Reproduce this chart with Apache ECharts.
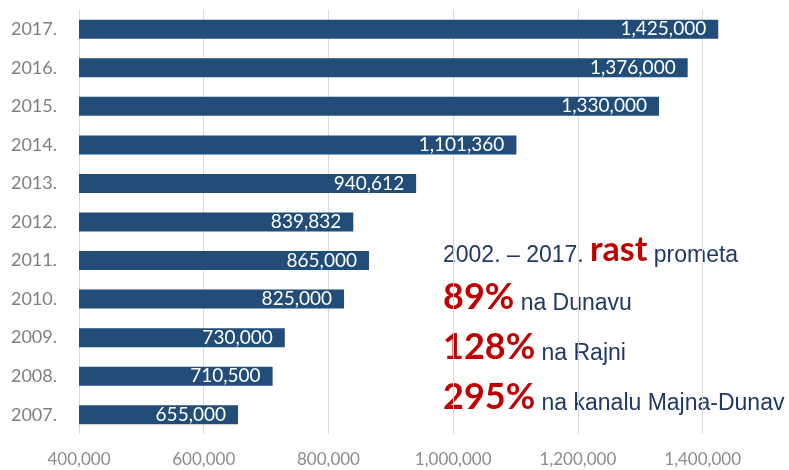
<!DOCTYPE html>
<html>
<head>
<meta charset="utf-8">
<script src="https://cdn.jsdelivr.net/npm/echarts@6/dist/echarts.min.js"></script>
<style>
  html, body { margin: 0; padding: 0; background: #fff; }
  #chart { width: 789px; height: 470px; }
</style>
</head>
<body>
<div id="chart"></div>
<script>
// godine i promet (odozdo prema gore)
let years = ['2007.', '2008.', '2009.', '2010.', '2011.', '2012.', '2013.', '2014.', '2015.', '2016.', '2017.']
let traffic = [655000, 710500, 730000, 825000, 865000, 839832, 940612, 1101360, 1330000, 1376000, 1425000]
// tekst s desne strane
let growthLines = [
  ['2002. \u2013 2017. ', 'rast', ' prometa'],
  ['', '89%', ' na Dunavu'],
  ['', '128%', ' na Rajni'],
  ['', '295%', ' na kanalu Majna-Dunav']
]

let navy = '#203864'
let red = '#c00000'

function fmt(v) {
  return Number(v).toLocaleString('en-US')
}

let mychart = echarts.init(document.querySelector('#chart'))

// tekstovi preko grafikona
let lineTops = [233, 279, 329, 379]
let graphics = growthLines.map(function(parts, i) {
  let text = ''
  if (parts[0]) text += '{s|' + parts[0] + '}'
  text += '{b|' + parts[1] + '}'
  text += '{s|' + parts[2] + '}'
  return {
    type: 'text',
    left: 443,
    top: lineTops[i],
    style: {
      text: text,
      rich: {
        s: {
          fontFamily: 'Liberation Sans',
          fontSize: 23,
          lineHeight: 27,
          fill: navy,
          verticalAlign: 'bottom'
        },
        b: {
          fontFamily: 'Lato',
          fontWeight: 'bold',
          fontSize: i === 0 ? 34 : 36,
          lineHeight: i === 0 ? 34 : 36,
          fill: red,
          verticalAlign: 'bottom'
        }
      }
    }
  }
})

let option = {
  animation: false,
  backgroundColor: '#fff',
  grid: {
    left: 79,
    right: 24,
    top: 10,
    bottom: 36
  },
  xAxis: {
    type: 'value',
    min: 400000,
    max: 1500000,
    interval: 200000,
    axisLine: { show: false },
    axisTick: { show: false },
    axisLabel: {
      showMaxLabel: false,
      color: '#8c8c8c',
      fontFamily: 'Lato',
      fontSize: 17,
      margin: 17,
      formatter: function(v) {
        return fmt(v)
      }
    },
    splitLine: {
      lineStyle: {
        color: ['#d9d9d9', '#d9d9d9', '#d9d9d9', '#d9d9d9', '#d9d9d9', '#d9d9d9', 'rgba(0,0,0,0)'],
        width: 1
      }
    }
  },
  yAxis: {
    type: 'category',
    data: years,
    axisLine: { show: false },
    axisTick: { show: false },
    axisLabel: {
      color: '#7f7f7f',
      fontFamily: 'Lato',
      fontSize: 18,
      margin: 22
    }
  },
  series: [
    {
      type: 'bar',
      data: traffic,
      barWidth: 19,
      itemStyle: {
        color: '#214d78'
      },
      label: {
        show: true,
        position: 'insideRight',
        distance: 12,
        color: '#fff',
        fontFamily: 'Lato',
        fontSize: 19,
        formatter: function(p) {
          return fmt(p.value)
        }
      }
    }
  ],
  graphic: graphics
}

mychart.setOption(option)
</script>
</body>
</html>
